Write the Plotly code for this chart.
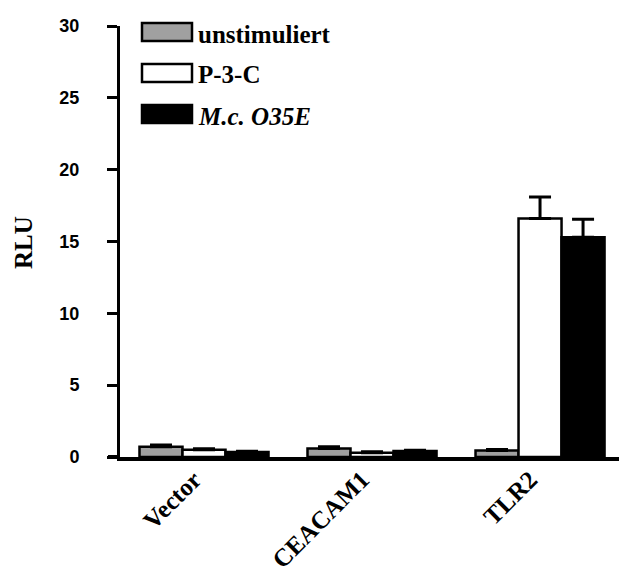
import plotly.graph_objects as go

# Luciferase reporter readout per transfected construct
categories = ["Vector", "CEACAM1", "TLR2"]
series_names = ["unstimuliert", "P-3-C", "M.c. O35E"]
unstim = [0.72, 0.60, 0.45]
unstim_err = [0.12, 0.12, 0.07]
p3c = [0.50, 0.30, 16.6]
p3c_err = [0.08, 0.07, 1.5]
mc = [0.35, 0.42, 15.3]
mc_err = [0.05, 0.05, 1.25]
y_ticks = [0, 5, 10, 15, 20, 25, 30]

fills = ["#a0a0a0", "#ffffff", "#000000"]
values = [unstim, p3c, mc]
errors = [unstim_err, p3c_err, mc_err]

W, H = 619, 567
ML, MR, MT, MB = 120, 0, 26, 110

fig = go.Figure()
for name, vals, errs, col in zip(series_names, values, errors, fills):
    fig.add_trace(go.Bar(
        x=categories, y=vals, name=name,
        marker=dict(color=col, line=dict(color="#000000", width=2.5)),
        error_y=dict(type="data", symmetric=False, array=errs,
                     arrayminus=[0] * len(errs), color="#000000",
                     thickness=3, width=11),
        showlegend=False,
    ))

serif = "Liberation Serif"
sans = "Liberation Sans"

fig.update_layout(
    width=W, height=H,
    margin=dict(l=ML, r=MR, t=MT, b=MB, autoexpand=False),
    paper_bgcolor="white", plot_bgcolor="white",
    barmode="group", bargap=0.232, bargroupgap=0,
    xaxis=dict(
        range=[-0.5, 2.47], showgrid=False, zeroline=False, automargin=False,
        showline=True, linecolor="#000000", linewidth=4,
        ticks="", tickangle=-45,
        ticklabelshift=-10, ticklabelstandoff=-6,
        tickvals=categories, ticktext=[f"<b>{c}</b>" for c in categories],
        tickfont=dict(family=serif, size=25, color="#000000"),
    ),
    yaxis=dict(
        range=[0, 30], tickvals=y_ticks, automargin=False,
        ticktext=[f"<b>{t}</b>" for t in y_ticks],
        showgrid=False, zeroline=False,
        showline=True, linecolor="#000000", linewidth=3,
        ticks="outside", ticklen=10, tickwidth=3, tickcolor="#000000",
        ticklabelstandoff=24,
        tickfont=dict(family=sans, size=18, color="#000000"),
    ),
)

# x axis baseline runs a little past the y axis on the left
pw = W - ML - MR
ph = H - MT - MB


def px_x(px):
    return (px - ML) / pw


def px_y(py):
    return (H - MB - py) / ph


fig.add_shape(type="line", xref="paper", yref="y",
              x0=px_x(108), x1=0, y0=0, y1=0,
              line=dict(color="#000000", width=4))

# y axis title
fig.add_annotation(xref="paper", yref="paper", x=px_x(23), y=px_y(243),
                   text="<b>RLU</b>", textangle=-90, showarrow=False,
                   xanchor="center", yanchor="middle",
                   font=dict(family=serif, size=25, color="#000000"))

# Legend: swatches plus labels in the upper-left of the plot
legend_rows = [32, 73, 114]
legend_text = ["<b>unstimuliert</b>", "<b>P-3-C</b>", "<b><i>M.c. O35E</i></b>"]
for cy, col, txt in zip(legend_rows, fills, legend_text):
    fig.add_shape(type="rect", xref="paper", yref="paper",
                  x0=px_x(142), x1=px_x(192), y0=px_y(cy + 9), y1=px_y(cy - 9),
                  fillcolor=col, line=dict(color="#000000", width=2.5))
    fig.add_annotation(xref="paper", yref="paper", x=px_x(196), y=px_y(cy + 2),
                       text=txt, showarrow=False, xanchor="left", yanchor="middle",
                       font=dict(family=serif, size=25, color="#000000"))

fig.write_html("out.html")
